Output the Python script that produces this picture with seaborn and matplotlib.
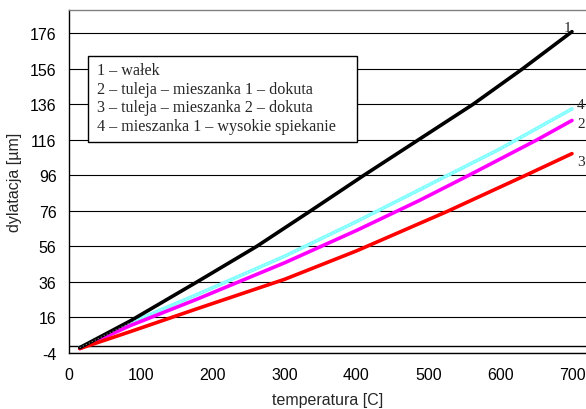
import numpy as np
import pandas as pd
import matplotlib
matplotlib.use("Agg")
import matplotlib.pyplot as plt
import seaborn as sns
from matplotlib.patches import Rectangle

# ---- data ----
t_walek = [15, 85, 178, 261, 336, 410, 486, 562, 631, 700]
v_walek = [-1, 14, 36, 56, 76, 96, 116, 136, 156, 177]

t_tul1 = [15, 85, 178, 300, 400, 488, 556, 651, 700]
v_tul1 = [-1.5, 11.4, 26.3, 46.8, 65, 82, 96, 116, 127]

t_tul2 = [15, 85, 178, 300, 400, 488, 525, 635, 700]
v_tul2 = [-1.5, 8, 20.9, 37.5, 53.5, 69, 75.5, 96, 108.3]

t_mies = [15, 85, 178, 300, 400, 488, 516, 600, 700]
v_mies = [-1, 13, 28.9, 50.5, 70, 88, 93.8, 111, 133.5]

series_ids = ["1", "2", "3", "4"]
legend_lines = [
    "1 – wałek",
    "2 – tuleja – mieszanka 1 – dokuta",
    "3 – tuleja – mieszanka 2 – dokuta",
    "4 – mieszanka 1 – wysokie spiekanie",
]
x_ticks = [0, 100, 200, 300, 400, 500, 600, 700]
y_ticks = [-4, 16, 36, 56, 76, 96, 116, 136, 156, 176]
x_label = "temperatura [C]"
y_label = "dylatacja [µm]"

colors = {"1": "#000000", "2": "#FF00FF", "3": "#FF0000", "4": "#80FFFF"}

frames = []
for sid, t, v in zip(series_ids, [t_walek, t_tul1, t_tul2, t_mies],
                     [v_walek, v_tul1, v_tul2, v_mies]):
    frames.append(pd.DataFrame({"T": t, "v": v, "s": sid}))
df = pd.concat(frames, ignore_index=True)

sns.set_style("white")
plt.rcParams["font.family"] = ["Liberation Sans", "DejaVu Sans"]

fig = plt.figure(figsize=(5.86, 4.10), dpi=100)
ax = fig.add_axes([69 / 586, (410 - 354) / 410, (586 - 69) / 586, (354 - 11) / 410])

# draw order: cyan, magenta, red, black
for sid in ["4", "2", "3", "1"]:
    sub = df[df["s"] == sid]
    sns.lineplot(data=sub, x="T", y="v", color=colors[sid], lw=2.6,
                 ax=ax, legend=False, sort=True, zorder=3)
    if sid == "4":
        sns.lineplot(data=sub, x="T", y="v", color="white", lw=0.8, alpha=0.55,
                     ax=ax, legend=False, sort=True, zorder=3.1,
                     linestyle=(0, (1, 2)))

ax.set_xlim(0, 719.5)
ax.set_ylim(-4, 189.2)
ax.set_xticks(x_ticks)
ax.set_yticks(y_ticks)
ax.set_xticklabels([str(x) for x in x_ticks], fontsize=11.5)
ax.set_yticklabels([str(y) for y in y_ticks], fontsize=11.5)

ax.yaxis.grid(True, color="black", lw=0.8)
ax.xaxis.grid(False)
ax.set_axisbelow(True)

for side in ["left", "bottom"]:
    ax.spines[side].set_color("black")
    ax.spines[side].set_linewidth(1.0)
ax.spines["right"].set_visible(False)
ax.spines["top"].set_color("#808080")
ax.spines["top"].set_linewidth(1.0)

ax.axhline(0, color="black", lw=1.0, zorder=2)

ax.tick_params(axis="y", direction="out", length=5, width=1, color="black", pad=4)
ax.tick_params(axis="x", direction="in", length=5, width=1, color="black", pad=10)
ax.tick_params(axis="both", colors="black", labelcolor="black")

ax.set_xlabel(x_label, fontsize=11.5, labelpad=7)
ax.set_ylabel(y_label, fontsize=11.5, labelpad=6)

# legend-like text box
ax.add_patch(Rectangle((0.0368, 0.615), 0.520, 0.251, transform=ax.transAxes,
                       facecolor="white", edgecolor="black", lw=1.0, zorder=5))
for i, line in enumerate(legend_lines):
    ax.text(0.054, 0.825 - i * 18.7 / 343, line, transform=ax.transAxes,
            fontsize=11.6, family=["Liberation Serif", "DejaVu Serif"],
            va="center", ha="left", zorder=6)

# series labels at line ends (offsets in pixels)
ends = {"1": (t_walek[-1], v_walek[-1], -5, 4, "center"),
        "4": (t_mies[-1], v_mies[-1], 5, 4, "left"),
        "2": (t_tul1[-1], v_tul1[-1], 5, -3, "left"),
        "3": (t_tul2[-1], v_tul2[-1], 5, -8, "left")}
for sid, (xt, yt, dx, dy, ha) in ends.items():
    ax.annotate(sid, xy=(xt, yt), xytext=(dx, dy), textcoords="offset pixels",
                fontsize=11, family=["Liberation Serif", "DejaVu Serif"],
                ha=ha, va="center", annotation_clip=False, zorder=6)

fig.savefig("out.png", dpi=100)
